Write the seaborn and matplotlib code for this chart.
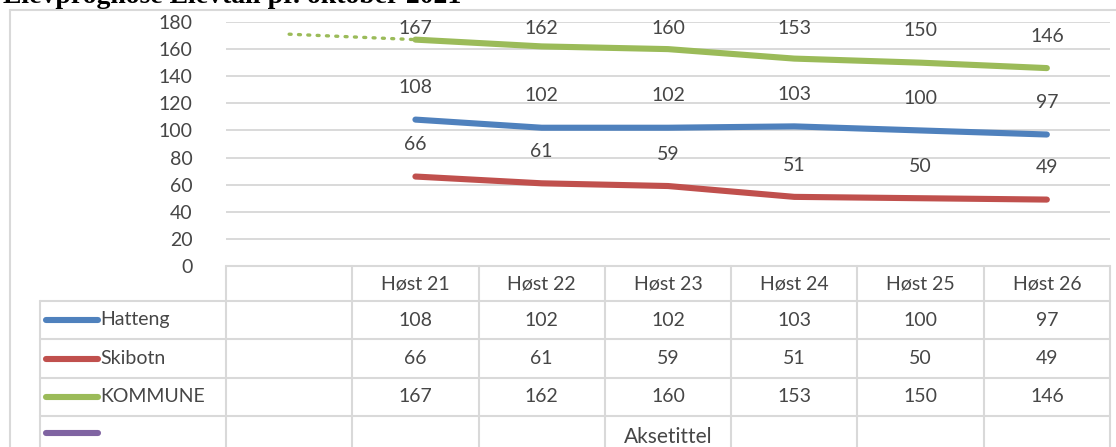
import matplotlib
matplotlib.use("Agg")
import matplotlib.pyplot as plt
import seaborn as sns
import pandas as pd
import numpy as np
from matplotlib.lines import Line2D
from matplotlib.transforms import blended_transform_factory

# ---------------- data ----------------
categories = ["", "Høst 21", "Høst 22", "Høst 23", "Høst 24", "Høst 25", "Høst 26"]
hatteng = [np.nan, 108, 102, 102, 103, 100, 97]
skibotn = [np.nan, 66, 61, 59, 51, 50, 49]
kommune = [np.nan, 167, 162, 160, 153, 150, 146]
kommune_lead = [171, 167]          # dotted lead-in segment (blank column -> Høst 21)
series_names = ["Hatteng", "Skibotn", "KOMMUNE", ""]
series_colors = ["#4F81BD", "#C0504D", "#9BBB59", "#8064A2"]
y_ticks = list(range(0, 181, 20))
axis_title = "Aksetittel"
title = "Elevprognose Elevtall pr. oktober 2021"

# ---------------- style ----------------
sns.set_theme(style="white")
plt.rcParams["font.family"] = ["Lato", "DejaVu Sans"]
TXT = "#464646"
GRID = "#D9D9D9"
FS = 14

W, H, DPI = 1116, 447, 100
fig = plt.figure(figsize=(W / DPI, H / DPI), dpi=DPI)


def fy(px):
    return 1 - px / H


def fx(px):
    return px / W


ax = fig.add_axes([fx(226), fy(266), fx(1110 - 226), (266 - 22) / H])

pos = list(range(len(categories)))
rows = []
for name, vals in zip(series_names[:3], [hatteng, skibotn, kommune]):
    for p, v in zip(pos, vals):
        rows.append({"pos": p, "value": v, "serie": name})
df = pd.DataFrame(rows).dropna()

sns.lineplot(data=df, x="pos", y="value", hue="serie",
             hue_order=series_names[:3], palette=series_colors[:3],
             linewidth=4.4, legend=False, sort=False, ax=ax)
for ln in ax.lines:
    ln.set_solid_capstyle("round")
    ln.set_solid_joinstyle("round")

lead = pd.DataFrame({"pos": [0, 1], "value": kommune_lead})
sns.lineplot(data=lead, x="pos", y="value", color=series_colors[2],
             linewidth=2.4, linestyle=(0, (0.6, 2.2)),
             legend=False, ax=ax)
ax.lines[-1].set_dash_capstyle("round")

ax.set_xlim(-0.5, len(categories) - 0.5)
ax.set_ylim(0, 180)
ax.set_yticks(y_ticks)
ax.set_yticklabels([str(t) for t in y_ticks], fontsize=FS, color=TXT)
ax.tick_params(axis="y", length=0, pad=24)
ax.set_xticks([])
ax.set_xlabel("")
ax.set_ylabel("")
ax.grid(axis="y", color=GRID, linewidth=1.4)
ax.grid(axis="x", visible=False)
for s in ax.spines.values():
    s.set_visible(False)

# data labels
for vals, cap in [(hatteng, None), (skibotn, None), (kommune, 175)]:
    for p, v in zip(pos, vals):
        if np.isnan(v):
            continue
        yl = v + 23.5
        if cap is not None:
            yl = min(yl, cap)
        ax.text(p, yl, f"{int(v)}", ha="center", va="center",
                fontsize=FS, color=TXT)

# ---------------- data table ----------------
tb = blended_transform_factory(ax.transData, fig.transFigure)
tf = fig.transFigure
row_edges = [266, 301, 339, 378, 416, 470]
lw = 1.5

fig.add_artist(Line2D([-0.5, len(categories) - 0.5], [fy(266), fy(266)],
                      transform=tb, color=GRID, lw=lw))
for r in row_edges[1:-1]:
    fig.add_artist(Line2D([fx(40), fx(1110)], [fy(r), fy(r)], transform=tf,
                          color=GRID, lw=lw))
for b in np.arange(-0.5, len(categories), 1.0):
    fig.add_artist(Line2D([b, b], [fy(266), fy(H + 5)], transform=tb,
                          color=GRID, lw=lw))
fig.add_artist(Line2D([fx(40), fx(40)], [fy(301), fy(H + 5)], transform=tf,
                      color=GRID, lw=lw))

# header
for p, c in zip(pos, categories):
    ax.text(p, fy(284), c, transform=tb, ha="center", va="center",
            fontsize=FS, color=TXT)

# rows
table_vals = [hatteng, skibotn, kommune]
for i, (name, col) in enumerate(zip(series_names, series_colors)):
    yc = (row_edges[i + 1] + min(row_edges[i + 2], 447)) / 2
    if i == 3:
        yc = 433
    fig.add_artist(Line2D([fx(46), fx(98)], [fy(yc), fy(yc)], transform=tf,
                          color=col, lw=4.4, solid_capstyle="round"))
    if name:
        fig.text(fx(100), fy(yc), name, ha="left", va="center",
                 fontsize=FS, color=TXT)
    if i < 3:
        for p, v in zip(pos, table_vals[i]):
            if np.isnan(v):
                continue
            ax.text(p, fy(yc), f"{int(v)}", transform=tb, ha="center",
                    va="center", fontsize=FS, color=TXT)

# axis title sitting in the last row
ax.text(3, fy(437), axis_title, transform=tb, ha="center", va="center",
        fontsize=FS + 1, color=TXT)

# chart area border (left + top)
fig.add_artist(Line2D([fx(10), fx(10)], [fy(10), fy(H + 5)], transform=tf,
                      color=GRID, lw=lw))
fig.add_artist(Line2D([fx(10), fx(W + 5)], [fy(10), fy(10)], transform=tf,
                      color=GRID, lw=lw))

# title (cropped at top as in reference)
fig.text(fx(3), fy(3), title, ha="left", va="baseline",
         fontsize=20, fontweight="bold", family=["Liberation Serif", "DejaVu Serif"],
         color="#000000")

fig.savefig("out.png", dpi=DPI)
